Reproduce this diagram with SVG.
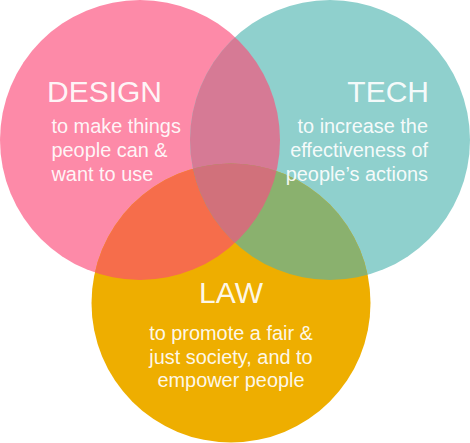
<svg xmlns="http://www.w3.org/2000/svg" width="470" height="443" viewBox="0 0 470 443">
<style>
.t{font-family:"Liberation Sans",Arial,Helvetica,sans-serif;fill:#fff;fill-opacity:.93}
.h{font-size:30px}
.s{font-size:19.9px}
</style>
<defs>
<clipPath id="cD"><circle cx="140" cy="140" r="140"/></clipPath>
<clipPath id="cT"><circle cx="330" cy="140" r="140"/></clipPath>
</defs>
<rect width="470" height="443" fill="#fff"/>
<g id="design">
<circle cx="140" cy="140" r="140" fill="#FD8AA8"/>
</g>
<g id="tech">
<circle cx="330" cy="140" r="140" fill="#8FD0CD"/>
</g>
<g id="law">
<circle cx="231" cy="303" r="139.5" fill="#EEAE00"/>
</g>
<g id="overlaps">
<circle cx="330" cy="140" r="140" fill="#D67A95" clip-path="url(#cD)"/>
<circle cx="231" cy="303" r="139.5" fill="#F66D4B" clip-path="url(#cD)"/>
<circle cx="231" cy="303" r="139.5" fill="#8AB16E" clip-path="url(#cT)"/>
<g clip-path="url(#cD)"><circle cx="231" cy="303" r="139.5" fill="#D1717B" clip-path="url(#cT)"/></g>
</g>
<g id="design-label" class="t">
<text class="h" x="47" y="102">DESIGN</text>
<text class="s" x="51.5" y="133">to make things</text>
<text class="s" x="51.5" y="157">people can &amp;</text>
<text class="s" x="51.5" y="181">want to use</text>
</g>
<g id="tech-label" class="t" text-anchor="end">
<text class="h" x="429" y="102">TECH</text>
<text class="s" x="428" y="133">to increase the</text>
<text class="s" x="428" y="157">effectiveness of</text>
<text class="s" x="428" y="181">people’s actions</text>
</g>
<g id="law-label" class="t" text-anchor="middle">
<text class="h" x="231" y="303">LAW</text>
<text class="s" x="231" y="340">to promote a fair &amp;</text>
<text class="s" x="231" y="363.5">just society, and to</text>
<text class="s" x="231" y="387">empower people</text>
</g>
</svg>
